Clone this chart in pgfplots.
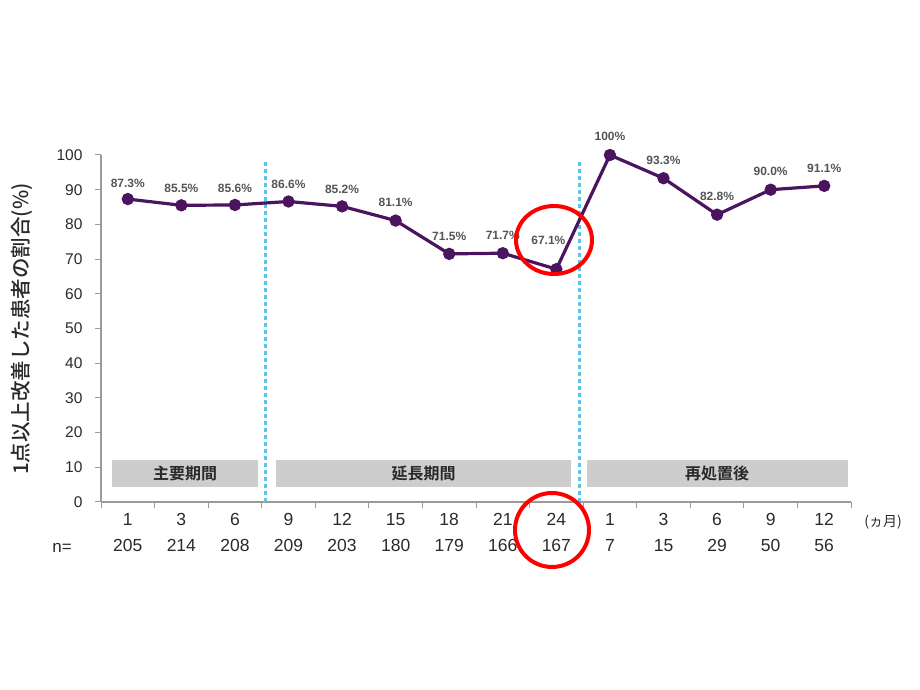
\documentclass[border=0pt]{standalone}
\usepackage{pgfplots}
\pgfplotsset{compat=1.18}
\usepackage{pgfplotstable}
\usepackage{fontspec}
\setmainfont{Liberation Sans}
\newfontfamily\jp{Noto Sans CJK JP}
\newfontfamily\jpm{Noto Sans CJK JP Medium}
\newfontfamily\jpb{Noto Sans CJK JP Bold}
\definecolor{lineP}{HTML}{4B145E}
\definecolor{dashB}{HTML}{5BC3EE}
\definecolor{bandG}{HTML}{CDCDCD}
\definecolor{axG}{HTML}{9A9A9A}
\definecolor{txt}{HTML}{2A2A2A}

\pgfplotstableread{
x y lab dx dy
0 87.3 87.3 0 16
1 85.5 85.5 0 17
2 85.6 85.6 0 17
3 86.6 86.6 0 17
4 85.2 85.2 0 17
5 81.1 81.1 0 18
6 71.5 71.5 0 18
7 71.7 71.7 0 18
8 67.1 67.1 -8 29
9 100 100 0 19
10 93.3 93.3 0 18
11 82.8 82.8 0 18
12 90.0 90.0 0 18
13 91.1 91.1 0 18
}\data

\begin{document}
\begin{tikzpicture}[x=1pt,y=1pt]
\path[use as bounding box] (0,0) rectangle (920,690);
\begin{axis}[
  at={(101pt,188pt)}, anchor=south west,
  scale only axis, width=750pt, height=347pt,
  xmin=-0.5, xmax=13.5, ymin=0, ymax=100,
  clip=false,
  axis lines*=left,
  axis line style={draw=axG, line width=1.2pt, -},
  tick align=outside,
  ytick={0,10,...,100},
  xtick={0,...,13},
  minor xtick={-0.5,0.5,...,13.5},
  major x tick style={draw=none},
  major y tick style={draw=axG, line width=1pt},
  minor x tick style={draw=axG, line width=1pt},
  major tick length=6pt, minor tick length=6pt,
  xticklabels={{1\\205},{3\\214},{6\\208},{9\\209},{12\\203},{15\\180},{18\\179},{21\\166},{24\\167},{1\\7},{3\\15},{6\\29},{9\\50},{12\\56}},
  xticklabel style={align=center, font=\fontsize{17.5}{26}\selectfont, text=txt, yshift=-2pt},
  yticklabel style={font=\fontsize{15.5}{17}\selectfont, text=txt, xshift=-9pt},
  /pgf/number format/assume math mode=true,
  nodes near coords={\pgfplotspointmeta\%},
  point meta=explicit symbolic,
  visualization depends on={\thisrow{dx}\as\dx},
  visualization depends on={\thisrow{dy}\as\dy},
  every node near coord/.append style={anchor=center, xshift=\dx pt, yshift=\dy pt, font=\bfseries\fontsize{12}{14}\selectfont, text=txt!80},
]
% gray bands
\fill[bandG] (axis cs:-0.3,4.3) rectangle (axis cs:2.43,12.1);
\fill[bandG] (axis cs:2.77,4.3) rectangle (axis cs:8.27,12.1);
\fill[bandG] (axis cs:8.57,4.3) rectangle (axis cs:13.45,12.1);
\node[font=\jpb\fontsize{16}{18}\selectfont, text=txt] at (axis cs:1.07,8.2) {主要期間};
\node[font=\jpb\fontsize{16}{18}\selectfont, text=txt] at (axis cs:5.52,8.2) {延長期間};
\node[font=\jpb\fontsize{16}{18}\selectfont, text=txt] at (axis cs:11.0,8.2) {再処置後};
% dashed separators
\draw[dashB, line width=2.5pt, dash pattern=on 4pt off 3pt] (axis cs:2.57,0) -- (axis cs:2.57,98);
\draw[dashB, line width=2.5pt, dash pattern=on 4pt off 3pt] (axis cs:8.43,0) -- (axis cs:8.43,98);
\addplot[lineP, line width=3.2pt, mark=*, mark size=4.5pt, mark options={fill=lineP, draw=lineP}]
  table[x=x, y=y, meta=lab] {\data};
\end{axis}
% axis label and extras
\node[rotate=90, font=\jpm\fontsize{20.5}{22}\selectfont, text=txt] at (22,361) {1点以上改善した患者の割合(\%)};
\node[font=\fontsize{17}{18}\selectfont, text=txt] at (62,142) {n=};
\node[font=\jp\fontsize{14}{16}\selectfont, text=txt] at (883,168) {(ヵ月)};
% red hand-drawn circles
\draw[red, line width=4pt] (554,450) ellipse (38pt and 34pt);
\draw[red, line width=4pt] (552,160) ellipse (37pt and 37pt);
\end{tikzpicture}
\end{document}
